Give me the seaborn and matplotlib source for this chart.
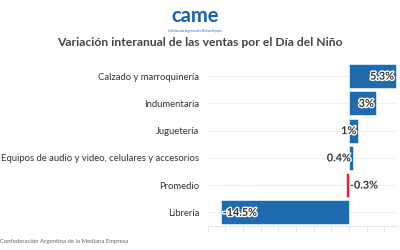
import matplotlib
matplotlib.use("Agg")
import matplotlib.pyplot as plt
import matplotlib.patheffects as pe
import seaborn as sns
import pandas as pd

categories = ["Calzado y marroquinería", "Indumentaria", "Juguetería",
              "Equipos de audio y video, celulares y accesorios", "Promedio", "Librería"]
values = [5.3, 3.0, 1.0, 0.4, -0.3, -14.5]
labels = ["5.3%", "3%", "1%", "0.4%", "-0.3%", "-14.5%"]
colors = ["#1f6bb0", "#1f6bb0", "#1f6bb0", "#1f6bb0", "#e8232b", "#1f6bb0"]

sns.set_theme(style="white")
plt.rcParams["font.family"] = ["Lato", "DejaVu Sans"]

df = pd.DataFrame({"cat": categories, "val": values})

fig = plt.figure(figsize=(4, 2.5), dpi=100)
ax = fig.add_axes([0.519, 0.096, 0.473, 0.654])

sns.barplot(data=df, x="val", y="cat", hue="cat", palette=colors, legend=False,
            width=0.88, ax=ax, orient="h", saturation=1)
for p in ax.patches:
    p.set_edgecolor("white")
    p.set_linewidth(0.4)

ax.set_xlim(-16, 5.4)
ax.set_ylim(5.5, -0.5)
ax.set_xticks(range(-16, 6, 2))
ax.set_xticklabels([])
ax.set_xlabel("")
ax.set_ylabel("")
for y in range(len(categories)):
    ax.axhline(y, color="#f0f0f0", lw=0.8, zorder=0)
for s in ["top", "right", "left"]:
    ax.spines[s].set_visible(False)
ax.spines["bottom"].set_color("#e6e6e6")
ax.spines["bottom"].set_linewidth(0.8)
ax.tick_params(axis="x", length=4, width=0.8, color="#e6e6e6", bottom=True, direction="out")
ax.tick_params(axis="y", length=0, pad=6, labelsize=6.85, labelcolor="#333333")

stroke = [pe.withStroke(linewidth=2, foreground="white")]
for i, (v, lab) in enumerate(zip(values, labels)):
    if v >= 0:
        ax.text(v - 0.2, i, lab, ha="right", va="center", fontsize=7.8, fontweight="bold",
                color="#333333", path_effects=stroke)
    else:
        ax.text(v + 0.2 if v < -1 else 0.1, i, lab, ha="left", va="center", fontsize=7.8,
                fontweight="bold", color="#333333", path_effects=stroke)

fig.text(0.5, 0.832, "Variación interanual de las ventas por el Día del Niño",
         ha="center", va="center", fontsize=8.75, fontweight="bold", color="#444444")
fig.text(0.4875, 0.935, "came", ha="center", va="center", fontsize=14.5, fontweight="bold",
         color="#1a5fb4")
fig.text(0.4875, 0.875, "Confederación Argentina de la Mediana Empresa", ha="center",
         va="center", fontsize=1.8, color="#1a5fb4")
fig.text(0.0, 0.035, "Confederación Argentina de la Mediana Empresa", ha="left",
         va="center", fontsize=4.3, color="#666666")

fig.savefig("out.png", dpi=100)
